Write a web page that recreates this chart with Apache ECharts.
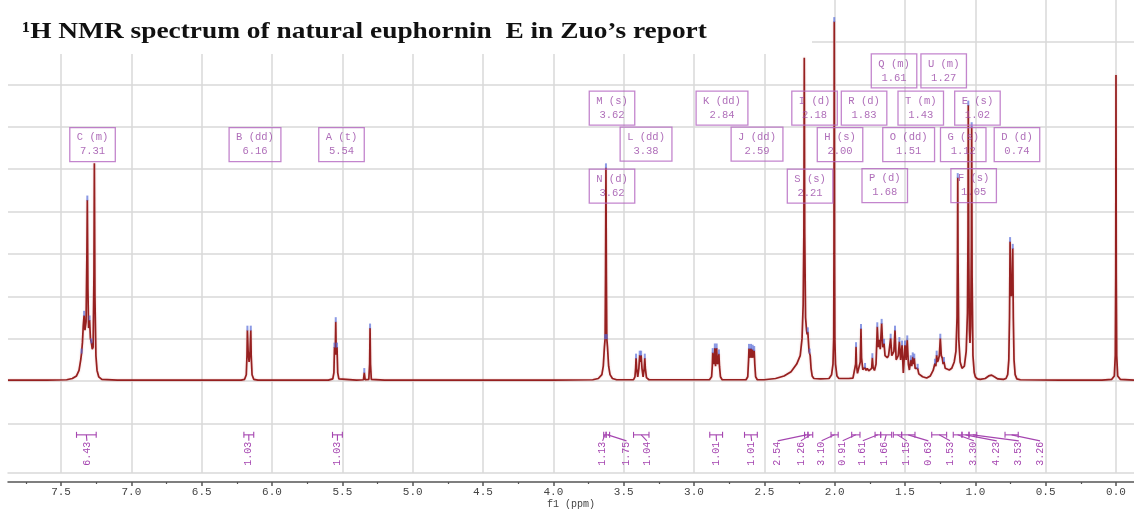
<!DOCTYPE html>
<html>
<head>
<meta charset="utf-8">
<script src="https://cdn.jsdelivr.net/npm/echarts@6/dist/echarts.min.js"></script>
<style>html,body{margin:0;padding:0;background:#fff}#c{width:1134px;height:509px}</style>
</head>
<body>
<div id="c"></div>
<script>
// ---- data (ppm, relative intensity in grid units) ----
const titleText = '\u00b9H NMR spectrum of natural euphornin  E in Zuo\u2019s report';
const xMajor = [0,0.5,1,1.5,2,2.5,3,3.5,4,4.5,5,5.5,6,6.5,7,7.5];
const xMinor = [0.25,0.75,1.25,1.75,2.25,2.75,3.25,3.75,4.25,4.75,5.25,5.75,6.25,6.75,7.25,7.75];
const yGrid = [-1,0,1,2,3,4,5,6,7,8];

const spectrum = [
[7.877,0.02],[7.60,0.02],[7.46,0.03],[7.42,0.06],[7.39,0.12],[7.372,0.25],[7.360,0.5],[7.354,0.66],[7.348,0.9],[7.342,1.3],[7.336,1.55],[7.330,1.2],[7.322,1.4],[7.316,3.0],[7.313,4.27],[7.309,2.2],[7.304,1.25],[7.297,1.44],[7.291,1.0],[7.284,0.9],[7.278,0.75],[7.272,0.8],[7.266,2.5],[7.263,5.14],[7.259,2.0],[7.252,0.6],[7.244,0.25],[7.232,0.1],[7.21,0.04],[7.10,0.02],
[6.22,0.02],[6.195,0.04],[6.183,0.15],[6.178,0.6],[6.175,1.2],[6.170,0.7],[6.163,0.45],[6.156,0.7],[6.151,1.2],[6.148,0.6],[6.142,0.15],[6.13,0.04],[6.10,0.02],
[5.60,0.02],[5.568,0.05],[5.560,0.2],[5.556,0.8],[5.553,0.62],[5.550,0.75],[5.547,1.4],[5.544,0.75],[5.541,0.62],[5.538,0.8],[5.533,0.2],[5.525,0.05],[5.40,0.02],
[5.350,0.03],[5.344,0.2],[5.338,0.03],[5.312,0.04],[5.306,0.4],[5.303,1.25],[5.300,0.4],[5.294,0.04],[5.20,0.02],
[4.50,0.02],[4.00,0.02],[3.72,0.03],[3.68,0.06],[3.655,0.15],[3.645,0.35],[3.637,0.8],[3.632,1.0],[3.629,2.5],[3.626,5.03],[3.623,2.5],[3.620,1.0],[3.615,0.8],[3.607,0.35],[3.597,0.15],[3.58,0.06],[3.55,0.03],
[3.43,0.03],[3.42,0.1],[3.415,0.3],[3.412,0.54],[3.408,0.3],[3.400,0.1],[3.392,0.3],[3.386,0.61],[3.381,0.45],[3.376,0.61],[3.370,0.3],[3.362,0.1],[3.354,0.3],[3.350,0.54],[3.346,0.3],[3.338,0.08],[3.32,0.03],
[2.89,0.03],[2.875,0.1],[2.870,0.35],[2.867,0.67],[2.862,0.45],[2.857,0.4],[2.852,0.78],[2.847,0.35],[2.843,0.35],[2.839,0.78],[2.834,0.4],[2.828,0.45],[2.823,0.64],[2.819,0.35],[2.812,0.1],[2.80,0.03],
[2.63,0.03],[2.618,0.1],[2.612,0.5],[2.609,0.77],[2.604,0.55],[2.599,0.6],[2.595,0.77],[2.590,0.55],[2.586,0.6],[2.583,0.75],[2.578,0.55],[2.575,0.55],[2.572,0.72],[2.568,0.4],[2.562,0.1],[2.55,0.03],
[2.50,0.03],[2.42,0.06],[2.36,0.12],[2.31,0.22],[2.27,0.4],[2.245,0.6],[2.232,1.0],[2.224,1.8],[2.219,3.5],[2.216,7.63],[2.213,3.5],[2.207,1.5],[2.200,1.2],[2.196,1.1],[2.191,1.16],[2.186,0.9],[2.182,0.7],[2.178,0.66],[2.174,0.6],[2.168,0.3],[2.160,0.12],[2.148,0.06],[2.10,0.05],
[2.04,0.06],[2.022,0.15],[2.012,0.4],[2.007,1.0],[2.005,3.0],[2.003,8.48],[2.001,3.0],[1.999,1.0],[1.994,0.4],[1.984,0.12],[1.970,0.06],[1.90,0.06],[1.870,0.07],
[1.856,0.1],[1.851,0.4],[1.848,0.81],[1.845,0.4],[1.838,0.18],[1.826,0.2],[1.818,0.45],[1.813,1.24],[1.809,0.55],[1.800,0.27],[1.790,0.27],[1.784,0.32],[1.777,0.25],[1.768,0.3],[1.758,0.24],[1.745,0.22],[1.737,0.3],[1.732,0.55],[1.727,0.32],[1.717,0.25],[1.706,0.4],[1.697,1.28],[1.690,0.8],[1.683,0.97],[1.676,0.75],[1.666,1.36],[1.658,0.8],[1.649,0.89],[1.642,0.6],[1.635,0.57],[1.626,0.55],[1.617,0.6],[1.602,1.01],[1.594,0.6],[1.587,0.61],[1.579,0.7],[1.571,1.2],[1.563,0.5],[1.555,0.46],[1.548,0.6],[1.540,0.93],[1.531,0.5],[1.521,0.85],[1.512,0.19],[1.500,0.85],[1.492,0.5],[1.484,0.97],[1.476,0.4],[1.469,0.26],[1.459,0.5],[1.452,0.35],[1.445,0.57],[1.440,0.4],[1.434,0.54],[1.428,0.3],[1.422,0.26],[1.416,0.28],[1.410,0.3],[1.402,0.17],[1.393,0.14],[1.375,0.1],[1.346,0.07],
[1.320,0.12],[1.300,0.25],[1.287,0.42],[1.281,0.35],[1.275,0.61],[1.269,0.45],[1.263,0.5],[1.256,0.6],[1.249,1.01],[1.242,0.6],[1.235,0.54],[1.229,0.4],[1.223,0.46],[1.214,0.3],[1.204,0.26],[1.185,0.26],[1.168,0.3],[1.150,0.45],[1.138,0.7],[1.130,1.5],[1.127,3.0],[1.125,4.8],[1.123,3.0],[1.118,1.0],[1.108,0.45],[1.095,0.3],[1.088,0.26],[1.078,0.35],[1.065,0.7],[1.056,1.6],[1.052,3.5],[1.050,6.51],[1.047,3.0],[1.042,1.2],[1.038,0.9],[1.033,1.3],[1.028,3.2],[1.026,6.0],[1.023,2.5],[1.017,0.6],[1.008,0.2],[1.000,0.1],[0.985,0.05],[0.965,0.04],[0.930,0.06],[0.905,0.12],[0.884,0.14],[0.865,0.1],[0.840,0.05],[0.800,0.04],
[0.782,0.06],[0.770,0.15],[0.762,0.5],[0.757,1.5],[0.753,3.29],[0.749,2.3],[0.744,2.0],[0.739,2.3],[0.734,3.13],[0.730,1.5],[0.725,0.5],[0.717,0.15],[0.705,0.05],[0.680,0.03],[0.40,0.02],[0.10,0.02],
[0.030,0.04],[0.012,0.12],[0.005,0.6],[0.002,2.5],[0.000,7.22],[-0.002,2.5],[-0.005,0.6],[-0.012,0.12],[-0.030,0.04],[-0.128,0.02]
];

const peakMarks = [
[7.354,0.66],[7.336,1.55],[7.313,4.27],[7.297,1.44],[7.284,0.9],[6.175,1.2],[6.151,1.2],[5.547,1.4],[5.556,0.8],[5.538,0.8],[5.344,0.2],[5.303,1.25],
[3.626,5.03],[3.632,1.0],[3.620,1.0],[3.412,0.54],[3.386,0.61],[3.376,0.61],[3.350,0.54],
[2.867,0.67],[2.852,0.78],[2.839,0.78],[2.823,0.64],[2.609,0.77],[2.595,0.77],[2.583,0.75],[2.572,0.72],
[2.191,1.16],[2.178,0.66],[2.003,8.48],[1.848,0.81],[1.813,1.24],[1.784,0.32],[1.732,0.55],[1.697,1.28],[1.666,1.36],[1.649,0.89],[1.602,1.01],[1.571,1.2],[1.540,0.93],[1.521,0.85],[1.500,0.85],[1.484,0.97],[1.459,0.5],[1.445,0.57],[1.434,0.54],[1.410,0.3],
[1.287,0.42],[1.275,0.61],[1.249,1.01],[1.223,0.46],[1.125,4.8],[1.050,6.51],[1.026,6.0],[0.753,3.29],[0.734,3.13]
];

// peak label boxes: letter, multiplicity, shift, anchor ppm, anchor level
const peakLabels = [
['C','m','7.31',7.276,5.58],['B','dd','6.16',6.121,5.58],['A','t','5.54',5.506,5.58],
['M','s','3.62',3.583,6.44],['L','dd','3.38',3.341,5.59],['N','d','3.62',3.583,4.60],
['K','dd','2.84',2.801,6.44],['J','dd','2.59',2.552,5.59],
['I','d','2.18',2.143,6.44],['R','d','1.83',1.791,6.44],['S','s','2.21',2.175,4.60],['H','s','2.00',1.962,5.58],
['Q','m','1.61',1.578,7.32],['U','m','1.27',1.225,7.32],['T','m','1.43',1.388,6.44],['E','s','1.02',0.985,6.44],
['O','dd','1.51',1.474,5.58],['G','s','1.12',1.086,5.58],['D','d','0.74',0.704,5.58],
['P','d','1.68',1.644,4.61],['F','s','1.05',1.012,4.61]
];

// integrals: from ppm, to ppm, label ppm, value
const integrals = [
[7.39,7.25,7.316,'6.43'],[6.20,6.13,6.165,'1.03'],[5.57,5.50,5.535,'1.03'],
[3.642,3.625,3.65,'1.13'],[3.625,3.60,3.48,'1.75'],[3.43,3.32,3.335,'1.04'],
[2.888,2.797,2.84,'1.01'],[2.641,2.55,2.59,'1.01'],
[2.214,2.19,2.405,'2.54'],[2.19,2.156,2.24,'1.26'],[2.026,1.975,2.093,'3.10'],[1.879,1.82,1.943,'0.91'],
[1.713,1.673,1.80,'1.61'],[1.673,1.595,1.645,'1.66'],[1.583,1.524,1.487,'1.15'],[1.524,1.429,1.334,'0.63'],
[1.31,1.204,1.18,'1.53'],[1.157,1.095,1.011,'3.30'],[1.095,1.045,0.848,'4.23'],[1.045,0.99,0.691,'3.53'],[0.789,0.695,0.54,'3.26']
];

// ---- layout constants ----
const X_MIN = -0.128, X_MAX = 7.877;
const Y_MIN = -2.17, Y_MAX = 8.99;
const BRACKET_Y = -1.27;
const PURPLE = '#a545b0';
const BOX = '#b466c0';
const GRIDC = '#d9d9d9';

const chart = echarts.init(document.getElementById('c'), null, {renderer:'canvas'});

const xAxisBase = {type:'value', inverse:true, min:X_MIN, max:X_MAX, position:'bottom', splitLine:{show:false}};

chart.setOption({
  animation:false,
  backgroundColor:'#fff',
  graphic:[
    {type:'rect', z:5, shape:{x:0,y:0,width:812,height:54}, style:{fill:'#fff'}, silent:true},
    {type:'text', z:10, x:22, y:32.5, scaleX:1.19, silent:true,
      style:{text:titleText, font:'bold 23px "Liberation Serif"', fill:'#111', verticalAlign:'middle', align:'left'}}
  ],
  grid:{left:8, right:0, top:0, bottom:36, containLabel:false, outerBoundsMode:'none'},
  xAxis:[
    Object.assign({}, xAxisBase, {offset:9,
      axisLine:{show:true, onZero:false, lineStyle:{color:'#555', width:1.5}},
      axisTick:{show:true, customValues:xMajor, length:4, lineStyle:{color:'#555', width:1.5}},
      axisLabel:{show:true, customValues:xMajor, margin:5, formatter:v=>v.toFixed(1), color:'#444', fontFamily:'Liberation Mono', fontSize:11},
      name:'f1 (ppm)', nameLocation:'middle', nameGap:17, nameMoveOverlap:false,
      nameTextStyle:{color:'#444', fontFamily:'Liberation Mono', fontSize:10}}),
    Object.assign({}, xAxisBase, {offset:9,
      axisLine:{show:false, onZero:false},
      axisTick:{show:true, customValues:xMinor, length:2, lineStyle:{color:'#555', width:1.2}},
      axisLabel:{show:false}}),
    Object.assign({}, xAxisBase, {offset:0,
      axisLine:{show:true, onZero:false, lineStyle:{color:GRIDC, width:1.5}},
      axisTick:{show:false}, axisLabel:{show:false}})
  ],
  yAxis:{type:'value', min:Y_MIN, max:Y_MAX, show:false},
  series:[
    {type:'line', name:'grid', data:[], z:1, silent:true,
      markLine:{z:1, silent:true, symbol:['none','none'], animation:false, label:{show:false},
        lineStyle:{color:GRIDC, width:1.5, type:'solid'},
        data: xMajor.map(v=>({xAxis:v})).concat(yGrid.map(v=>({yAxis:v})))}},
    {type:'line', name:'spectrum', data:spectrum, z:3, showSymbol:false, symbol:'none', smooth:false, sampling:false,
      lineStyle:{color:'#962020', width:1.7, shadowColor:'rgba(215,120,120,0.45)', shadowBlur:2}},
    {type:'scatter', name:'picks', data:peakMarks, z:4, symbol:'rect', symbolSize:[2,5], symbolOffset:[0,-2],
      itemStyle:{color:'rgba(85,105,215,0.85)'}},
    {type:'scatter', name:'labels', z:6, symbolSize:1, itemStyle:{color:'rgba(0,0,0,0)'},
      data: peakLabels.map(d=>({value:[d[3],d[4]], letter:d[0], mult:d[1], shift:d[2]})),
      label:{show:true, position:'inside', color:'#9b4aa8', fontFamily:'Liberation Mono', fontSize:10.5, lineHeight:14,
        borderColor:BOX, borderWidth:1.3, padding:[3,7,3,7], align:'center',
        formatter:p=>p.data.letter+' ('+p.data.mult+')\n'+p.data.shift}},
    {type:'custom', name:'integrals', z:5, data:integrals.map(d=>[d[0],d[1],d[2]]),
      renderItem:function(params, api){
        const p1 = api.coord([api.value(0), BRACKET_Y]);
        const p2 = api.coord([api.value(1), BRACKET_Y]);
        const pl = api.coord([api.value(2), BRACKET_Y]);
        const y = p1[1], cx = (p1[0]+p2[0])/2;
        const st = {stroke:PURPLE, lineWidth:1.1, fill:null};
        return {type:'group', children:[
          {type:'line', shape:{x1:p1[0],y1:y,x2:p2[0],y2:y}, style:st},
          {type:'line', shape:{x1:p1[0],y1:y-3,x2:p1[0],y2:y+3}, style:st},
          {type:'line', shape:{x1:p2[0],y1:y-3,x2:p2[0],y2:y+3}, style:st},
          {type:'polyline', shape:{points:[[cx,y],[pl[0],y+6]]}, style:st},
          {type:'text', x:pl[0], y:y+7, rotation:Math.PI/2,
            style:{text:integrals[params.dataIndex][3], align:'right', verticalAlign:'middle',
              fill:PURPLE, font:'10px "Liberation Mono"'}}
        ]};
      }}
  ]
});
</script>
</body>
</html>
